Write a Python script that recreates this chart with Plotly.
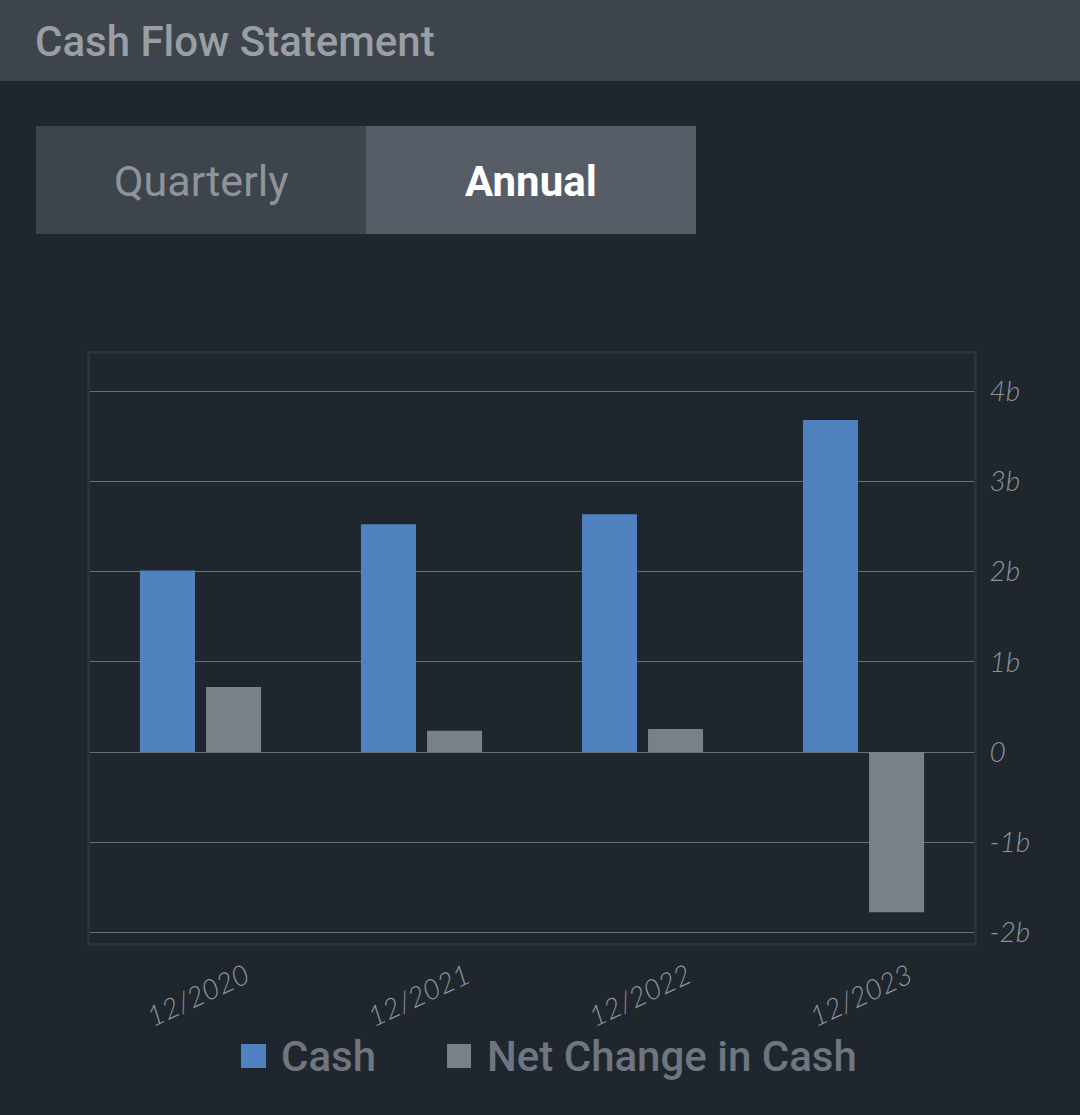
import plotly.graph_objects as go

W, H = 1080, 1115

periods = ['12/2020', '12/2021', '12/2022', '12/2023']
cash = [2.01, 2.525, 2.635, 3.68]
net_change = [0.72, 0.235, 0.255, -1.775]
y_ticks = [-2, -1, 0, 1, 2, 3, 4]
y_labels = ['-2b', '-1b', '0', '1b', '2b', '3b', '4b']

BG = '#1f262d'
HEADER = '#3e444c'
ACTIVE = '#575d67'
BLUE = '#5082bf'
GRAY = '#7a8087'
FRAME = '#2b3239'
GRID = '#6a6f74'
TICK_TEXT = '#8d949b'


def px(x):
    return x / W


def py(y):
    return 1 - y / H


def box(x0, y0, x1, y1, color):
    return dict(type='rect', xref='paper', yref='paper', x0=px(x0), x1=px(x1), y0=py(y0), y1=py(y1),
                fillcolor=color, line_width=0, layer='below')


def label(text, x, y, size, color, anchor='left', family='Roboto', weight=400):
    return dict(text=text, xref='paper', yref='paper', x=px(x), y=py(y), xanchor=anchor, yanchor='middle',
                showarrow=False, font=dict(family=family, size=size, color=color, weight=weight))


fig = go.Figure()
fig.add_trace(go.Bar(x=periods, y=cash, name='Cash', marker=dict(color=BLUE, line_width=0)))
fig.add_trace(go.Bar(x=periods, y=net_change, name='Net Change in Cash', marker=dict(color=GRAY, line_width=0)))

fig.update_layout(
    width=W,
    height=H,
    margin=dict(l=0, r=0, t=0, b=0, autoexpand=False),
    paper_bgcolor=BG,
    plot_bgcolor=BG,
    showlegend=False,
    barmode='group',
    bargap=0.402,
    bargroupgap=0.167,
    shapes=[
        box(0, 0, 1080, 81, HEADER),
        box(36, 126, 366, 234, HEADER),
        box(366, 126, 696, 234, ACTIVE),
        box(241, 1044, 266, 1068, BLUE),
        box(447, 1044, 471, 1068, GRAY),
    ],
    annotations=[
        label('Cash Flow Statement', 32.5, 41.5, 42, '#9a9fa5', weight=500),
        label('Quarterly', 201, 181, 43, '#8f9499', anchor='center'),
        label('Annual', 531, 181, 42, '#ffffff', anchor='center', weight=700),
        label('Cash', 279, 1056, 42, '#6f7680', weight=500),
        label('Net Change in Cash', 485, 1056, 42, '#6f7680', weight=500),
    ],
)
fig.update_xaxes(
    domain=[px(90), px(974)],
    showgrid=False,
    showline=True,
    mirror=True,
    linecolor=FRAME,
    linewidth=3,
    zeroline=False,
    ticks='outside',
    ticklen=3,
    tickcolor='rgba(0,0,0,0)',
    tickangle=-25,
    ticklabelshift=45,
    tickfont=dict(family='Lato', size=28, color=TICK_TEXT, style='italic', weight=300),
)
fig.update_yaxes(
    domain=[py(943), py(354)],
    range=[-2.116, 4.41],
    side='right',
    tickvals=y_ticks,
    ticktext=y_labels,
    showgrid=True,
    gridcolor=GRID,
    gridwidth=1,
    zeroline=True,
    zerolinecolor=GRID,
    zerolinewidth=1,
    showline=True,
    mirror=True,
    linecolor=FRAME,
    linewidth=3,
    ticks='outside',
    ticklen=7,
    tickcolor='rgba(0,0,0,0)',
    tickfont=dict(family='Lato', size=28, color=TICK_TEXT, style='italic', weight=300),
)

fig.write_html(
    "out.html",
    config=dict(displayModeBar=False),
    post_script="document.body.style.margin='0';document.body.style.background='#1f262d';",
)
